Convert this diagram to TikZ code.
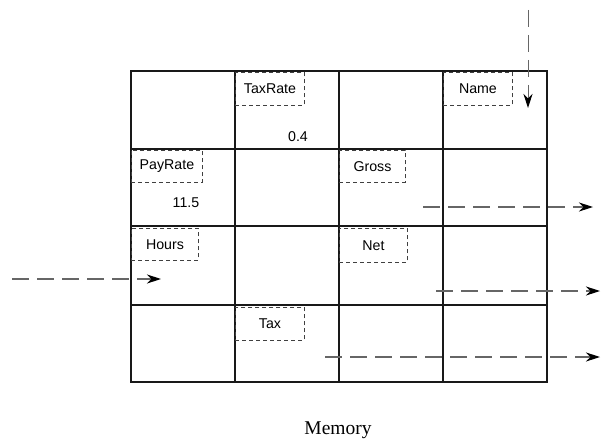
\documentclass[tikz,border=0pt]{standalone}
\usepackage{fontspec}
\setmainfont{Liberation Serif}
\setsansfont{Liberation Sans}
\usetikzlibrary{arrows.meta,positioning}

\begin{document}
\begin{tikzpicture}[
  x=1pt,y=-1pt,
  cellline/.style={line width=1.9pt,draw=black!90},
  varbox/.style={rectangle,draw=black!75,line width=0.9pt,dash pattern=on 4pt off 3pt,
    anchor=north west,inner sep=0pt,minimum height=33pt,font=\fontsize{14.2}{17}\sffamily},
  value/.style={inner sep=0pt,font=\fontsize{14.2}{17}\sffamily},
  flow/.style={-{Stealth[length=14pt,width=9pt,inset=4.5pt,color=black]},
    draw=black!60,line width=1.2pt,dash pattern=on 17pt off 8pt}
]
\useasboundingbox (0,0) rectangle (601,441);

% memory cells
\draw[cellline] (131,71) rectangle (547,382);
\foreach \cx in {235,339,443}
  \draw[cellline] (\cx,71) -- (\cx,382);
\foreach \cy in {149,226,305}
  \draw[cellline] (131,\cy) -- (547,\cy);

% variables
\node[varbox,minimum width=69pt] (taxrate) at (235,72) {TaxRate};
\node[varbox,minimum width=69pt] (name) at (443,72) {Name};
\node[varbox,minimum width=71pt,minimum height=32pt] (payrate) at (131,150) {PayRate};
\node[varbox,minimum width=66pt,minimum height=32pt] (gross) at (339,150) {Gross};
\node[varbox,minimum width=67pt,minimum height=32pt] (hours) at (131,228) {Hours};
\node[varbox,minimum width=68pt,minimum height=34pt] (net) at (339,228) {Net};
\node[varbox,minimum width=69pt] (tax) at (235,307) {Tax};

\node[value] (taxrateval) at (298,137) {0.4};
\node[value] (payrateval) at (186,203) {11.5};

\node[font=\fontsize{19.5}{22}\selectfont] (mem) at (338,430) {Memory};

% data moving in and out
\coordinate (namein) at (528,10);
\coordinate (nameto) at (528,108);
\coordinate (hoursin) at (12,279);
\coordinate (hoursto) at (161,279);
\coordinate (grossfrom) at (423,207);
\coordinate (grossout) at (593,207);
\coordinate (netfrom) at (436,291);
\coordinate (netout) at (600,291);
\coordinate (taxfrom) at (325,357);
\coordinate (taxout) at (600,357);

\draw[flow,line width=1pt] (namein) -- (nameto);
\draw[flow] (hoursin) -- (hoursto);
\draw[flow] (grossfrom) -- (grossout);
\draw[flow] (netfrom) -- (netout);
\draw[flow] (taxfrom) -- (taxout);
\end{tikzpicture}
\end{document}
